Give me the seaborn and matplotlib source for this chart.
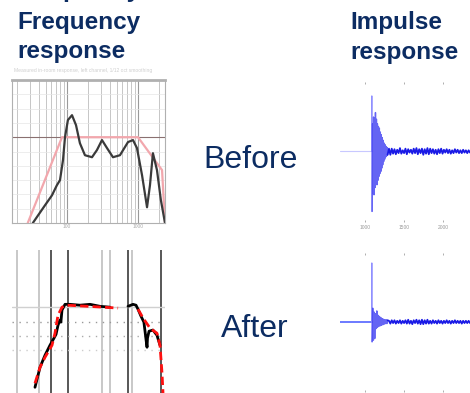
import numpy as np
import pandas as pd
import matplotlib
matplotlib.use("Agg")
import matplotlib.pyplot as plt
import seaborn as sns

# frequency response before correction (Hz, dB)
before_freq = [33, 49, 61.5, 72, 79.7, 87.8, 93.7, 103, 117.6, 134, 152, 179, 225, 264, 311,
               366, 444, 557, 723, 850, 967, 1140, 1340, 1474, 1623, 1850, 2100, 2400]
before_db = [-30, -23.8, -20.3, -16.8, -15, -8, 0, 6, 7.7, 4.2, -2.1, -6.3, -7, -4.5, -1,
             -3.8, -7, -6.3, -1.7, -1, -3.8, -13.3, -24.5, -16.8, -5.6, -11.5, -22, -30]

target_freq = [28, 85, 1000, 2180, 2400]
target_db = [-30, 0, 0, -11.5, -30]

# after correction
after_target_freq_a = [35.4, 41.7, 49, 61.5, 67.7, 74.7, 85, 100, 200, 524]
after_target_db_a = [-26.6, -21, -17.5, -13.3, -9.1, -2.8, 0, 0.7, 0.3, -0.3]
after_target_freq_b = [1000, 1178, 1474, 1850, 2040, 2178, 2250]
after_target_db_b = [-0.7, -3.8, -7.3, -9.1, -13.3, -23, -30]

after_freq_a = [35.4, 41.7, 49, 57.6, 65.6, 70, 74.7, 79.7, 82, 85, 93.7, 110, 152, 211, 292, 404]
after_db_a = [-28, -21, -16.8, -13.3, -10.8, -9.5, -6.3, -4.5, -5.2, -1, 1, 1, 0.7, 1, 0.3, 0]
after_freq_b = [723, 850, 937, 1000, 1100, 1210, 1250, 1300, 1340, 1360, 1430, 1623, 1850, 2040]
after_db_b = [0.3, 1, 0.7, -0.7, -3.1, -5.2, -8, -11.5, -14, -10.8, -8.4, -8, -9.8, -13.3]

band_light = [20, 40, 311, 404, 822]
band_dark = [59.5, 103, 723, 2100]

# impulse responses (sample index, amplitude)
imp_ticks = [1000, 1500, 2000]
imp_tick_labels = ["1000", "1500", "2000"]

before_lead_t = [680, 1085]
before_spike_t = [1085, 1088, 1091]
before_spike_a = [0, 1.0, -1.08]
before_burst = [-1.08, 0.5, -0.75, 0.62, -0.78, 0.6, -0.65, 0.7, -0.55, 0.58, -0.6, 0.5, -0.52,
                0.45, -0.45, 0.42, -0.4, 0.35, -0.36, 0.3, -0.3, 0.25, -0.24, 0.2, -0.18, 0.15,
                -0.14, 0.12, -0.1, 0.09, -0.08, 0.07, -0.06]
before_tail = [0.05, -0.06, 0.05, -0.04, 0.04, -0.05, 0.03, -0.03, 0.06, -0.04, 0.02, -0.03,
               0.05, -0.05, 0.04, -0.02, 0.03, -0.04, 0.05, -0.03, 0.06, -0.05, 0.04, -0.03,
               0.05, -0.06, 0.04, -0.04, 0.06, -0.05, 0.05, -0.03, 0.04, -0.04, 0.03, -0.05,
               0.04, -0.03, 0.05, -0.04, 0.03, -0.02, 0.04, -0.03, 0.03, -0.04, 0.02, -0.03,
               0.04, -0.02, 0.03, -0.03, 0.02, -0.03, 0.03, -0.02, 0.02, -0.03, 0.02, -0.02]

after_lead_t = [680, 1085]
after_spike_t = [1085, 1088, 1091]
after_spike_a = [0, 1.07, -0.36]
after_burst = [-0.36, 0.25, -0.33, 0.18, -0.3, 0.15, -0.12, 0.2, -0.1, 0.12, -0.08, 0.1, -0.07,
               0.08, -0.06, 0.06, -0.05, 0.05, -0.04, 0.04, -0.03, 0.04, -0.03, 0.03]
after_tail = [0.02, -0.03, 0.03, -0.02, 0.03, -0.03, 0.02, -0.02, 0.03, -0.03, 0.02, -0.02,
              0.03, -0.03, 0.04, -0.03, 0.02, -0.04, 0.03, -0.02, 0.04, -0.03, 0.03, -0.04,
              0.04, -0.04, 0.03, -0.03, 0.04, -0.03, 0.02, -0.03, 0.03, -0.02, 0.02, -0.03,
              0.03, -0.02, 0.02, -0.03, 0.02, -0.02, 0.03, -0.02, 0.02, -0.03, 0.02, -0.02,
              0.03, -0.02, 0.02, -0.02, 0.02, -0.03, 0.02, -0.02, 0.02, -0.02, 0.02, -0.02]

navy = "#0c2c62"
W, H = 470, 393

sns.set_theme(style="white")
plt.rcParams["font.family"] = ["Liberation Sans", "DejaVu Sans"]

fig = plt.figure(figsize=(4.7, 3.93), dpi=100)


def rect(x0, y0, x1, y1):
    return [x0 / W, 1 - y1 / H, (x1 - x0) / W, (y1 - y0) / H]


def line(ax, x, y, **kw):
    sns.lineplot(data=pd.DataFrame({"x": x, "y": y}), x="x", y="y", ax=ax,
                 estimator=None, sort=False, **kw)


# titles (the first line is the tail of a heading cut by the slide edge)
fig.text(17 / W, 1 + 3 / H, "Frequency", fontsize=17.5, fontweight="bold", color=navy, va="baseline")
fig.text(17 / W, 1 - 29 / H, "Frequency", fontsize=17.5, fontweight="bold", color=navy, va="baseline")
fig.text(17 / W, 1 - 58 / H, "response", fontsize=17.5, fontweight="bold", color=navy, va="baseline")
fig.text(350 / W, 1 - 29 / H, "Impulse", fontsize=17.5, fontweight="bold", color=navy, va="baseline")
fig.text(350 / W, 1 - 59 / H, "response", fontsize=17.5, fontweight="bold", color=navy, va="baseline")
fig.text(14 / W, 1 - 72 / H, "Measured in-room response, left channel, 1/12 oct smoothing",
         fontsize=3.6, color="#cfcfcf", va="baseline")
fig.text(251 / W, 1 - 168 / H, "Before", fontsize=23, color=navy, ha="center", va="baseline")
fig.text(255 / W, 1 - 337 / H, "After", fontsize=23, color=navy, ha="center", va="baseline")

# before frequency response
ax1 = fig.add_axes(rect(12, 80, 165, 223))
ax1.set_xscale("log")
ax1.set_xlim(16.8, 2400)
ax1.set_ylim(-30, 20)
ax1.set_yticks(np.arange(-30, 21, 5))
ax1.grid(True, which="major", axis="x", color="#9a9a9a", lw=0.8)
ax1.grid(True, which="minor", axis="x", color="#bdbdbd", lw=0.6)
ax1.grid(True, which="major", axis="y", color="#e6e6e6", lw=0.5)
ax1.axhline(0, color="#8a7070", lw=0.8)
line(ax1, target_freq, target_db, color="#f2a7ad", lw=1.6)
line(ax1, before_freq, before_db, color="#3a3a3a", lw=1.6)
ax1.set_xticks([100, 1000])
ax1.set_xticklabels(["100", "1000"])
ax1.tick_params(axis="x", which="both", length=0, labelsize=3.5, labelcolor="#aaaaaa", pad=1)
ax1.tick_params(axis="y", length=0, labelleft=False)
ax1.set_xlabel("")
ax1.set_ylabel("")
for s in ax1.spines.values():
    s.set_color("#b0b0b0")
    s.set_linewidth(0.8)
ax1.spines["top"].set_linewidth(2)

# after frequency response
ax2 = fig.add_axes(rect(12, 250, 165, 393))
ax2.set_xscale("log")
ax2.set_xlim(16.8, 2400)
ax2.set_ylim(-30, 20)
for f in band_light:
    ax2.axvline(f, color="#c4c4c4", lw=1.3)
for f in band_dark:
    ax2.axvline(f, color="#4a4a4a", lw=1.3)
ax2.axhline(0, color="#d0d0d0", lw=1.0)
for lvl, c in [(-5, "#999999"), (-10, "#aaaaaa"), (-15, "#cccccc")]:
    ax2.axhline(lvl, color=c, lw=1.0, ls=(0, (1, 4)))
line(ax2, after_freq_a, after_db_a, color="black", lw=2)
line(ax2, after_freq_b, after_db_b, color="black", lw=2)
line(ax2, after_target_freq_a, after_target_db_a, color="#ff1010", lw=2, ls=(0, (3, 1.5)))
line(ax2, after_target_freq_b, after_target_db_b, color="#ff1010", lw=2, ls=(0, (3, 1.5)))
ax2.set_xticks([])
ax2.set_yticks([])
ax2.minorticks_off()
ax2.set_xlabel("")
ax2.set_ylabel("")
for s in ax2.spines.values():
    s.set_visible(False)


def impulse(ax, lead_t, spike_t, spike_a, burst, tail, base_color, base_lw, labels):
    ax.set_xlim(680, 2346)
    ax.set_ylim(-1.27, 1.25)
    burst_t = np.linspace(spike_t[-1], 1290, len(burst))
    tail_t = np.linspace(1290, 2346, len(tail) + 1)
    line(ax, lead_t, [0, 0], color=base_color, lw=base_lw)
    line(ax, spike_t, spike_a, color="#9090ff", lw=0.8)
    line(ax, burst_t, burst, color="#3030f0", lw=1.0, alpha=0.75)
    line(ax, tail_t, [burst[-1]] + tail, color="#1a1ae6", lw=1.3)
    ax.set_xticks(imp_ticks)
    ax.set_xticklabels(imp_tick_labels if labels else [])
    ax.set_yticks([])
    ax.tick_params(axis="x", direction="in", length=1.5, width=0.6, color="#a0a0a0",
                   top=True, bottom=True, labelsize=3.5, labelcolor="#999999", pad=2)
    ax.set_xlabel("")
    ax.set_ylabel("")
    for s in ax.spines.values():
        s.set_visible(False)


ax3 = fig.add_axes(rect(340, 82, 470, 222))
impulse(ax3, before_lead_t, before_spike_t, before_spike_a, before_burst, before_tail,
        "#c8c8ff", 0.8, True)

ax4 = fig.add_axes(rect(340, 253, 470, 392))
impulse(ax4, after_lead_t, after_spike_t, after_spike_a, after_burst, after_tail,
        "#6070ff", 1.3, False)

fig.savefig("out.png", dpi=100)
